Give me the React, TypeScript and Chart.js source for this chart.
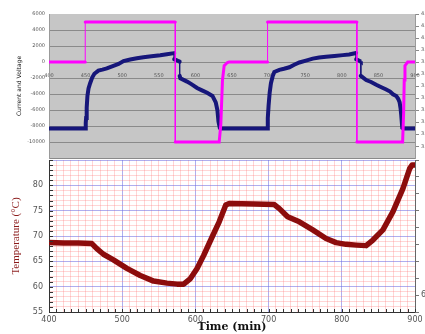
import React, { useEffect, useRef } from 'react';
import { Chart, registerables } from 'chart.js';

Chart.register(...registerables);

// ---- Top panel: current & voltage (time in minutes) ----
const VOLT_X = [400, 449.5, 449.5, 572.5, 572.5, 632.5, 634.7, 637, 639.3, 643.8, 646, 698.6, 698.6, 820.6, 820.6, 883.1, 884.5, 885.3, 886.3, 890, 900];
const VOLT_Y = [0, 0, 5000, 5000, -10000, -10000, -7820, -2250, -460, -60, 0, 0, 5000, 5000, -10000, -10000, -6230, -2250, -460, 0, 0];

const CURR_X = [400, 449.5, 450.2, 450.7, 451.5, 452.5, 454, 456.2, 459, 462, 467.5, 473, 479, 488, 495, 501.8, 511, 520, 529, 540, 552, 561, 571, 571, 574, 577, 578.5, 578.5, 579.5, 588.6, 595, 602.3, 609, 616, 623.3, 627.8, 630.1, 631.5, 633.3, 634, 698.6, 698.9, 700, 701.5, 703.2, 705.5, 707.8, 714.7, 721, 728.4, 735, 742, 751, 760.3, 769, 778.5, 790, 801.4, 810, 819.6, 819.6, 822, 825, 826, 826, 833.3, 840, 847, 854, 860.7, 866, 869.9, 874.4, 877, 879, 880.3, 881.2, 882.6, 884, 900];
const CURR_Y = [-8300, -8300, -7600, -7000, -5700, -4240, -3300, -2650, -1950, -1470, -1070, -950, -800, -480, -250, 120, 320, 460, 600, 720, 840, 960, 1110, 330, 250, 100, 40, -1730, -2050, -2450, -2800, -3250, -3550, -3850, -4240, -5040, -6030, -7430, -8220, -8300, -8300, -7000, -5430, -3800, -2650, -1800, -1250, -980, -850, -660, -350, -60, 180, 420, 560, 660, 760, 860, 950, 1130, 330, 250, 100, 40, -1730, -2250, -2500, -2840, -3150, -3440, -3700, -4030, -4240, -4600, -5040, -5800, -6630, -8220, -8300, -8300];

const TOP_Y_HIDDEN = [-12000];
const TOP_RIGHT_LABEL_DIGITS = 1;

// ---- Bottom panel: temperature ----
const TIME = [400, 420, 440, 458.5, 465.3, 474.4, 488, 506.4, 524.7, 542.9, 561.2, 575, 584, 593.2, 602.3, 611.4, 622.8, 632.5, 641.5, 646.2, 680, 707.8, 714.7, 726, 742, 760.3, 778.5, 792.2, 805.9, 820, 833.3, 842.5, 856.2, 869.9, 883.6, 892.7, 896, 900];
const TEMP = [68.7, 68.6, 68.6, 68.5, 67.5, 66.4, 65.3, 63.6, 62.2, 61.1, 60.7, 60.5, 60.5, 61.6, 63.6, 66.2, 69.8, 72.8, 76.1, 76.4, 76.3, 76.2, 75.4, 73.8, 72.8, 71.2, 69.5, 68.7, 68.35, 68.2, 68.1, 69.2, 71.2, 74.8, 79.4, 83.3, 84.0, 84.0];

const X_LABELED = [400, 500, 600, 700, 800, 900];
const Y_LABELED = [55, 60, 65, 70, 75, 80];
const RIGHT_T_LABELS = ['', '60', '', '', '', '', '', '', '', ''];

const pts = (xs: number[], ys: number[]) => xs.map((x, i) => ({ x, y: ys[i] }));

const tinyFont = { size: 5, family: 'DejaVu Sans' };
const tickFont = { size: 8, family: 'DejaVu Sans' };

const MAJOR_GRID = 'rgba(110,110,225,0.55)';
const MINOR_GRID = 'rgba(255,120,120,0.3)';

const topBg = {
  id: 'topBg',
  beforeDraw(chart: any) {
    const { ctx, chartArea: a } = chart;
    ctx.save();
    ctx.fillStyle = '#c6c6c6';
    ctx.fillRect(a.left, a.top, a.right - a.left, a.bottom - a.top);
    ctx.restore();
  },
};

const bottomBg = {
  id: 'bottomBg',
  beforeDraw(chart: any) {
    const { ctx, chartArea: a } = chart;
    ctx.save();
    ctx.fillStyle = '#ffffff';
    ctx.fillRect(a.left, a.top, a.right - a.left, a.bottom - a.top);
    ctx.restore();
  },
  afterDraw(chart: any) {
    const { ctx, chartArea: a, scales } = chart;
    ctx.save();
    ctx.strokeStyle = '#333';
    ctx.lineWidth = 1;
    scales.y.ticks.forEach((t: any) => {
      const py = Math.round(scales.y.getPixelForValue(t.value)) + 0.5;
      ctx.beginPath();
      ctx.moveTo(a.left, py);
      ctx.lineTo(a.left + 4, py);
      ctx.stroke();
    });
    scales.x.ticks.forEach((t: any) => {
      const px = Math.round(scales.x.getPixelForValue(t.value)) + 0.5;
      ctx.beginPath();
      ctx.moveTo(px, a.bottom);
      ctx.lineTo(px, a.bottom - 3);
      ctx.stroke();
    });
    ctx.restore();
  },
};

const segWidth = (thick: number) => (c: any) => (c.p0.parsed.x === c.p1.parsed.x ? 1 : thick);

const fitV = (w: number) => (s: any) => { s.width = w; s.paddingTop = 0; s.paddingBottom = 0; };

export default function App() {
  const topRef = useRef<HTMLCanvasElement>(null);
  const botRef = useRef<HTMLCanvasElement>(null);

  useEffect(() => {
    document.body.style.margin = '0';
    const top = new Chart(topRef.current!, {
      type: 'scatter',
      data: {
        datasets: [
          {
            data: pts(VOLT_X, VOLT_Y),
            showLine: true,
            borderColor: '#ff00ff',
            borderWidth: 3,
            pointRadius: 0,
            borderCapStyle: 'round',
            segment: { borderWidth: segWidth(3) },
          },
          {
            data: pts(CURR_X, CURR_Y),
            showLine: true,
            borderColor: '#16167a',
            borderWidth: 4,
            pointRadius: 0,
            borderCapStyle: 'round',
            segment: { borderWidth: segWidth(4) },
          },
        ],
      } as any,
      options: {
        animation: false,
        responsive: false,
        maintainAspectRatio: false,
        layout: { padding: { top: 14, left: 0, right: 0, bottom: 0 } },
        plugins: { legend: { display: false }, tooltip: { enabled: false } },
        scales: {
          x: {
            type: 'linear',
            min: 400,
            max: 900,
            position: { y: 0 } as any,
            grid: { display: false },
            border: { display: false },
            ticks: { stepSize: 50, autoSkip: false, maxRotation: 0, font: tinyFont, color: '#555', padding: 3 },
          },
          y: {
            position: 'left',
            min: -12000,
            max: 6000,
            grid: {
              drawTicks: false,
              color: (c: any) => (c.tick && c.tick.value === 6000 ? 'rgba(0,0,0,0)' : '#8a8a8a'),
            },
            border: { color: '#9a9a9a' },
            ticks: {
              stepSize: 2000,
              font: tinyFont,
              color: '#555',
              padding: 4,
              callback: (v: any) => (TOP_Y_HIDDEN.includes(Number(v)) ? '' : String(v)),
            },
            title: {
              display: true,
              text: 'Current and Voltage',
              font: { size: 6, family: 'DejaVu Sans' },
              color: '#111',
              padding: { top: 16, bottom: 0 },
            },
            afterFit: (s: any) => { s.width = 49; },
          },
          y2: {
            position: 'right',
            min: 3.002,
            max: 4.2,
            grid: { drawOnChartArea: false, tickLength: 4, color: '#888' },
            border: { color: '#9a9a9a' },
            ticks: {
              stepSize: 0.1,
              includeBounds: false,
              font: tinyFont,
              color: '#555',
              padding: 2,
              callback: (v: any) => Number(v).toFixed(TOP_RIGHT_LABEL_DIGITS),
            },
            afterFit: (s: any) => { s.width = 10; },
          },
        },
      } as any,
      plugins: [topBg],
    });

    const bot = new Chart(botRef.current!, {
      type: 'scatter',
      data: {
        datasets: [
          {
            data: pts(TIME, TEMP),
            showLine: true,
            borderColor: '#8c0c0c',
            borderWidth: 5.5,
            pointRadius: 0,
            borderCapStyle: 'round',
            borderJoinStyle: 'round',
          },
        ],
      } as any,
      options: {
        animation: false,
        responsive: false,
        maintainAspectRatio: false,
        layout: { padding: 0 },
        plugins: { legend: { display: false }, tooltip: { enabled: false } },
        scales: {
          x: {
            type: 'linear',
            min: 400,
            max: 900,
            grid: {
              drawTicks: false,
              color: (c: any) => (c.tick && c.tick.value % 100 === 0 ? MAJOR_GRID : MINOR_GRID),
            },
            border: { color: '#333' },
            ticks: {
              stepSize: 10,
              autoSkip: false,
              maxRotation: 0,
              font: tickFont,
              color: '#555',
              padding: 3,
              callback: (v: any) => (X_LABELED.includes(Number(v)) ? String(v) : ''),
            },
            title: {
              display: true,
              text: 'Time (min)',
              font: { family: 'DejaVu Serif', weight: 'bold', size: 11 },
              color: '#111',
              padding: { top: 0, bottom: 0 },
            },
            afterFit: (s: any) => { s.height = 22; s.paddingLeft = 0; s.paddingRight = 0; },
          },
          y: {
            position: 'left',
            min: 55,
            max: 85,
            grid: {
              drawTicks: false,
              color: (c: any) => (c.tick && c.tick.value % 5 === 0 ? MAJOR_GRID : MINOR_GRID),
            },
            border: { color: '#333' },
            ticks: {
              stepSize: 1,
              autoSkip: false,
              font: tickFont,
              color: '#555',
              padding: 6,
              callback: (v: any) => (Y_LABELED.includes(Number(v)) ? String(v) : ''),
            },
            title: {
              display: true,
              text: 'Temperature (°C)',
              font: { family: 'Liberation Serif', size: 11 },
              color: '#8b1a1a',
              padding: { top: 10, bottom: 0 },
            },
            afterFit: fitV(49),
          },
          y2: {
            position: 'right',
            min: 0,
            max: 9,
            grid: { drawOnChartArea: false, tickLength: 4, color: '#777' },
            border: { color: '#666' },
            ticks: {
              stepSize: 1,
              font: tickFont,
              color: '#555',
              padding: 2,
              callback: (v: any) => RIGHT_T_LABELS[Number(v)] ?? '',
            },
            afterFit: fitV(10),
          },
        },
      } as any,
      plugins: [bottomBg],
    });

    return () => {
      top.destroy();
      bot.destroy();
    };
  }, []);

  return (
    <div style={{ position: 'relative', width: 425, height: 334, background: '#fff', overflow: 'hidden' }}>
      <canvas ref={topRef} width={425} height={165} style={{ position: 'absolute', left: 0, top: 0, width: 425, height: 165 }} />
      <canvas ref={botRef} width={425} height={174} style={{ position: 'absolute', left: 0, top: 160, width: 425, height: 174, background: '#fff' }} />
    </div>
  );
}
